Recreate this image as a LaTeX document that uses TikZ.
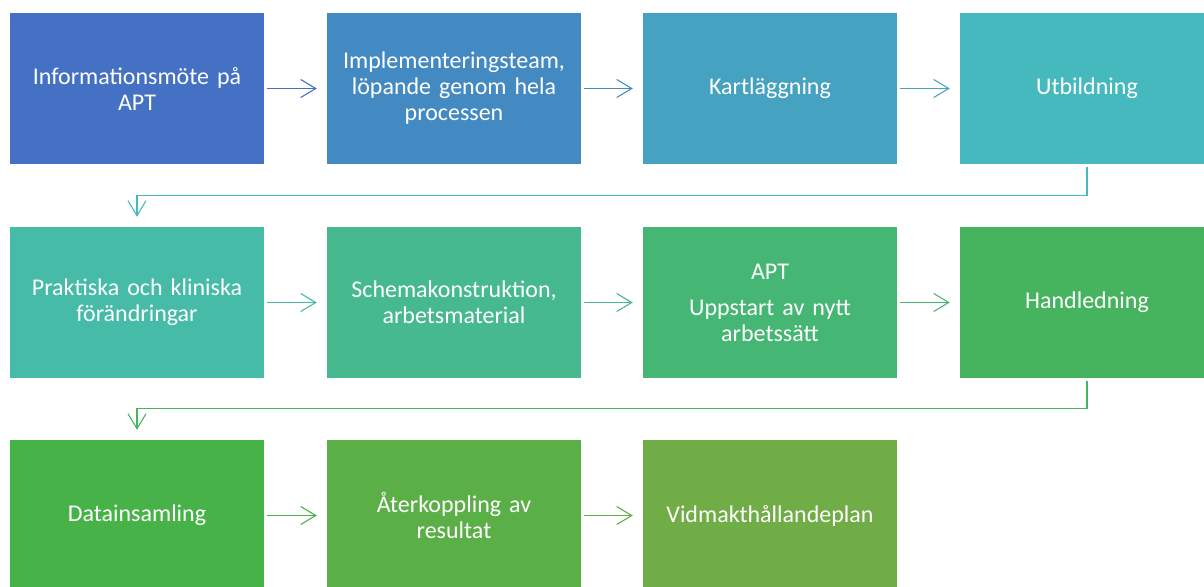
\documentclass[tikz,border=0pt]{standalone}
\usepackage{fontspec}
\setmainfont{Carlito}
\usetikzlibrary{arrows.meta}

% step colours, from blue through teal to green
\definecolor{c0}{HTML}{4471C4}
\definecolor{c1}{HTML}{448AC2}
\definecolor{c2}{HTML}{45A2C0}
\definecolor{c3}{HTML}{45B9BD}
\definecolor{c4}{HTML}{46BBA7}
\definecolor{c5}{HTML}{46B98E}
\definecolor{c6}{HTML}{46B675}
\definecolor{c7}{HTML}{46B45E}
\definecolor{c8}{HTML}{46B247}
\definecolor{c9}{HTML}{5BAF47}
\definecolor{c10}{HTML}{70AD47}

\tikzset{
  stepbox/.style={fill=#1, draw=none, minimum width=254pt, minimum height=151pt,
    inner sep=0pt, text=white, text width=240pt, align=center,
    font=\fontsize{24pt}{26pt}\selectfont},
  flow/.style={draw=#1, line width=1.1pt,
    -{Straight Barb[length=15pt,width=18pt,line width=1.1pt]},
    shorten <=3pt, shorten >=10pt},
}

\begin{document}
\begin{tikzpicture}[x=1pt, y=-1pt]
\useasboundingbox (0,0) rectangle (1204,586);
\clip (0,0) rectangle (1204,586);

% first row
\node[stepbox=c0] (b1) at (137,88.5) {Informationsmöte på\\APT};
\node[stepbox=c1] (b2) at (454,88.5) {Implementeringsteam,\\löpande genom hela\\processen};
\node[stepbox=c2] (b3) at (770,88.5) {Kartläggning};
\node[stepbox=c3] (b4) at (1087,88.5) {Utbildning};

% second row
\node[stepbox=c4] (b5) at (137,302.5) {Praktiska och kliniska\\förändringar};
\node[stepbox=c5] (b6) at (454,302.5) {Schemakonstruktion,\\arbetsmaterial};
\node[stepbox=c6] (b7) at (770,302.5) {APT\\[10pt]Uppstart av nytt\\arbetssätt};
\node[stepbox=c7] (b8) at (1087,302.5) {Handledning};

% third row
\node[stepbox=c8] (b9) at (137,515.5) {Datainsamling};
\node[stepbox=c9] (b10) at (454,515.5) {Återkoppling av\\resultat};
\node[stepbox=c10] (b11) at (770,515.5) {Vidmakthållandeplan};

% connectors within rows
\draw[flow=c0] (b1.east) -- (b2.west);
\draw[flow=c1] (b2.east) -- (b3.west);
\draw[flow=c2] (b3.east) -- (b4.west);
\draw[flow=c4] (b5.east) -- (b6.west);
\draw[flow=c5] (b6.east) -- (b7.west);
\draw[flow=c6] (b7.east) -- (b8.west);
\draw[flow=c8] (b9.east) -- (b10.west);
\draw[flow=c9] (b10.east) -- (b11.west);

% row breaks
\draw[flow=c3] (b4.south) -- ++(0,31) -| (b5.north);
\draw[flow=c7] (b8.south) -- ++(0,30) -| (b9.north);
\end{tikzpicture}
\end{document}
